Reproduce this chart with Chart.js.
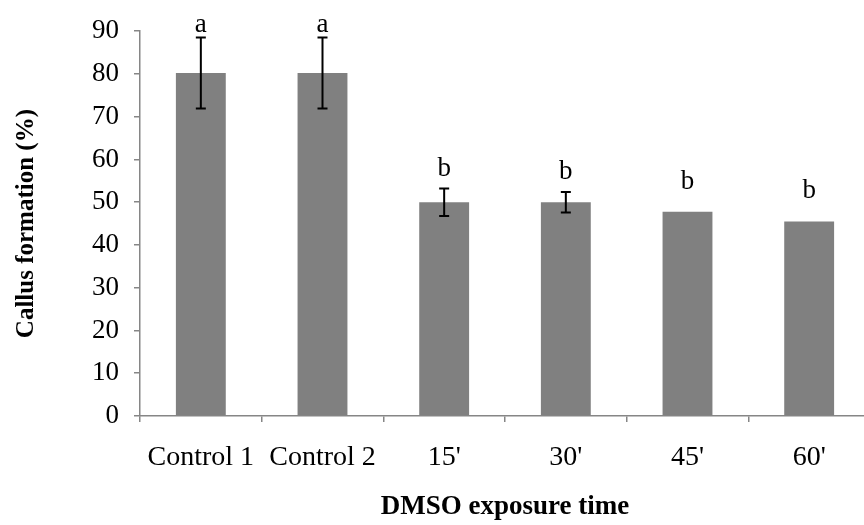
<!DOCTYPE html>
<html>
<head>
<meta charset="utf-8">
<script src="https://cdn.jsdelivr.net/npm/chart.js@4/dist/chart.umd.min.js"></script>
<style>
  html, body { margin: 0; padding: 0; background: #fff; overflow: hidden; }
</style>
</head>
<body>
<canvas id="callusChart" width="870" height="525"></canvas>
<script>
const categories = ['Control 1', 'Control 2', "15'", "30'", "45'", "60'"];
const callusValues = [80.2, 80.2, 50, 50, 47.8, 45.5];
const errorValues = [8.3, 8.3, 3.2, 2.4, 0, 0];
const letters = ['a', 'a', 'b', 'b', 'b', 'b'];
const yTicks = [0, 10, 20, 30, 40, 50, 60, 70, 80, 90];

const axisGray = '#868686';
const serif = "'Liberation Serif', 'Times New Roman', serif";
// gap between the top of each bar / error bar and its letter (px)
const letterGap = [6, 6, 13, 13, 23, 23];

// error bars + significance letters
const errorBars = {
    id: 'errorBars',
    afterDatasetsDraw(chart) {
        const ctx = chart.ctx;
        const meta = chart.getDatasetMeta(0);
        const y = chart.scales.y;
        ctx.save();
        ctx.strokeStyle = '#000';
        ctx.lineWidth = 2;
        ctx.fillStyle = '#000';
        ctx.font = '27px ' + serif;
        ctx.textAlign = 'center';
        ctx.textBaseline = 'alphabetic';
        meta.data.forEach((bar, i) => {
            const v = callusValues[i];
            const e = errorValues[i];
            const x = bar.x;
            const top = y.getPixelForValue(v + e);
            if (e > 0) {
                const bot = y.getPixelForValue(v - e);
                ctx.beginPath();
                ctx.moveTo(x, top); ctx.lineTo(x, bot);
                ctx.moveTo(x - 5, top); ctx.lineTo(x + 5, top);
                ctx.moveTo(x - 5, bot); ctx.lineTo(x + 5, bot);
                ctx.stroke();
            }
            ctx.fillText(letters[i], x, top - letterGap[i]);
        });
        ctx.restore();
    }
};

new Chart(document.getElementById('callusChart'), {
    type: 'bar',
    data: {
        labels: categories,
        datasets: [{
            label: 'Callus formation',
            data: callusValues,
            backgroundColor: '#808080',
            borderWidth: 0,
            categoryPercentage: 1,
            barPercentage: 0.41
        }]
    },
    options: {
        responsive: false,
        animation: false,
        layout: { padding: { left: 0, right: 0, top: 24, bottom: 0 } },
        plugins: {
            legend: { display: false },
            tooltip: { enabled: false }
        },
        scales: {
            x: {
                grid: {
                    display: true,
                    drawOnChartArea: false,
                    offset: true,
                    tickLength: 6,
                    color: axisGray,
                    lineWidth: 1.5
                },
                border: { color: axisGray, width: 1.5 },
                ticks: {
                    color: '#000',
                    font: { family: serif, size: 28 },
                    padding: 19,
                    maxRotation: 0
                },
                title: {
                    display: true,
                    text: 'DMSO exposure time',
                    color: '#000',
                    font: { family: serif, size: 27, weight: 'bold' },
                    padding: { top: 0, bottom: 2 }
                },
                afterFit(scale) { scale.height = 109; }
            },
            y: {
                min: 0,
                max: 90,
                afterBuildTicks(scale) { scale.ticks = yTicks.map(v => ({ value: v })); },
                grid: {
                    display: true,
                    drawOnChartArea: false,
                    tickLength: 6,
                    color: axisGray,
                    lineWidth: 1.5
                },
                border: { color: axisGray, width: 1.5 },
                ticks: {
                    color: '#000',
                    font: { family: serif, size: 27 },
                    padding: 15
                },
                title: {
                    display: true,
                    text: 'Callus formation (%)',
                    color: '#000',
                    font: { family: serif, size: 25, weight: 'bold' },
                    padding: { top: 12, bottom: 0 }
                },
                afterFit(scale) { scale.width = 140; }
            }
        }
    },
    plugins: [errorBars]
});
</script>
</body>
</html>
